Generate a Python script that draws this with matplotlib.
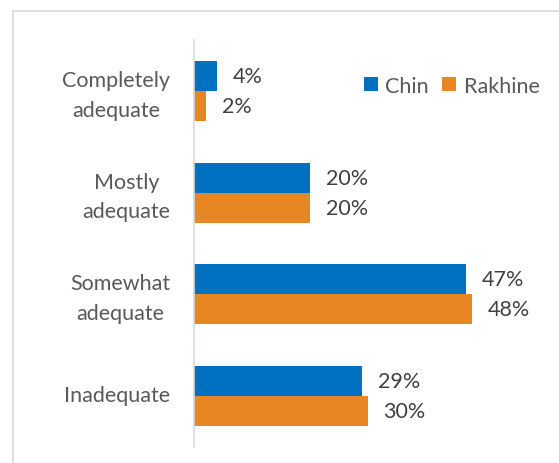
import numpy as np
import matplotlib
matplotlib.use("Agg")
import matplotlib.pyplot as plt
from matplotlib.patches import Rectangle
from matplotlib.transforms import ScaledTranslation

plt.rcParams['font.family'] = ['Lato', 'DejaVu Sans']

# adequacy ratings, top to bottom
categories = ["Completely\nadequate", "Mostly\nadequate", "Somewhat\nadequate", "Inadequate"]
chin = [4, 20, 47, 29]
rakhine = [2, 20, 48, 30]

BLUE = "#0070C0"
ORANGE = "#E88624"
W, H = 559, 464
FS = 15.5

fig = plt.figure(figsize=(W / 100, H / 100), dpi=100)
# light frame around the chart area
fig.patches.append(Rectangle((13 / W, -0.1), 1.2, 1 - 12 / H + 0.1, transform=fig.transFigure,
                             fill=False, edgecolor="#D9D9D9", linewidth=1.2))

ax = fig.add_axes([194 / W, 1 - 447.6 / H, 347 / W, 406.4 / H])
y = np.arange(len(categories))
bh = 0.295
ax.barh(y - bh / 2, chin, height=bh, color=BLUE, label="Chin")
ax.barh(y + bh / 2, rakhine, height=bh, color=ORANGE, label="Rakhine")

for yi, v in zip(y - bh / 2, chin):
    ax.annotate(f"{v}%", (v, yi), xytext=(11.5, 0), textcoords="offset points",
                ha="left", va="center", fontsize=FS, color="#404040")
for yi, v in zip(y + bh / 2, rakhine):
    ax.annotate(f"{v}%", (v, yi), xytext=(11.5, 0), textcoords="offset points",
                ha="left", va="center", fontsize=FS, color="#404040")

ax.set_xlim(0, 60)
ax.set_ylim(len(categories) - 0.5, -0.5)
ax.set_yticks(y)
ax.set_yticklabels(categories, fontsize=FS, color="#595959", multialignment="center",
                   linespacing=1.6)
ax.tick_params(axis="y", length=0, pad=17)
# nudge the category labels up a little
nudge = ScaledTranslation(0, 3 / 100, fig.dpi_scale_trans)
for lbl in ax.get_yticklabels():
    lbl.set_transform(lbl.get_transform() + nudge)
ax.set_xticks([])
for s in ["top", "right", "bottom"]:
    ax.spines[s].set_visible(False)
ax.spines["left"].set_color("#D9D9D9")
ax.spines["left"].set_linewidth(1.2)

ax.legend(loc="upper right", bbox_to_anchor=(548 / W, 1 - 68 / H), bbox_transform=fig.transFigure,
          ncol=2, frameon=False, fontsize=FS, handlelength=0.65, handleheight=0.65,
          handletextpad=0.35, columnspacing=0.6, labelcolor="#595959", borderaxespad=0)

fig.savefig("out.png", dpi=100)
